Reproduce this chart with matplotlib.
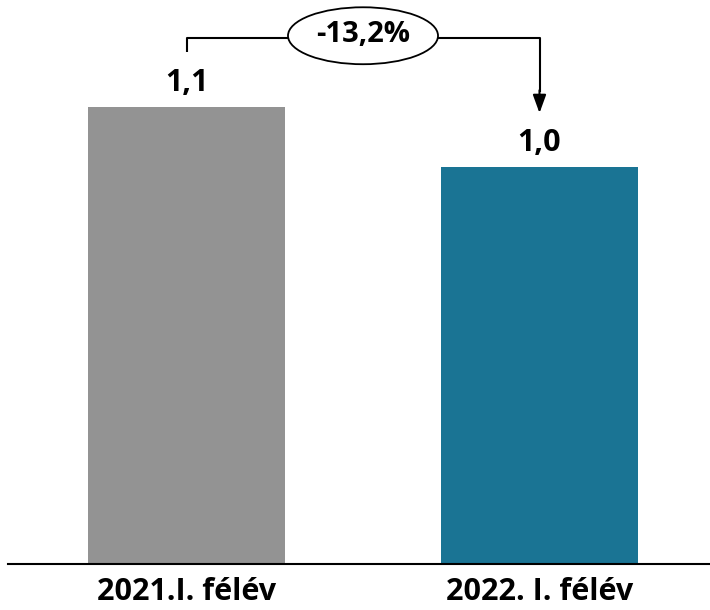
import matplotlib
matplotlib.use("Agg")
import matplotlib.pyplot as plt
from matplotlib.patches import Ellipse

categories = ["2021.I. félév", "2022. I. félév"]
values = [1.1, 0.955]
labels = ["1,1", "1,0"]
change_label = "-13,2%"
colors = ["#939393", "#1a7494"]

plt.rcParams['font.family'] = ['Open Sans', 'DejaVu Sans']

fig = plt.figure(figsize=(7.1, 6.1), dpi=100)
ax = fig.add_axes([8/710, 46/610, 702/710, 564/610])

x = list(range(len(categories)))
ax.bar(x, values, width=0.558, color=colors, zorder=2)
ax.set_xlim(-0.5057, 1.483)
ax.set_ylim(0, 1.357)

for xi, v, lab in zip(x, values, labels):
    ax.text(xi, v + 0.058, lab, ha='center', va='center', fontsize=22, fontweight='bold')

for s in ['top', 'right', 'left']:
    ax.spines[s].set_visible(False)
ax.spines['bottom'].set_linewidth(1.5)
ax.set_yticks([])
ax.set_xticks(x)
ax.set_xticklabels(categories, fontsize=22, fontweight='bold')
ax.tick_params(axis='x', length=0, pad=9)

# bracket annotation
ytop = values[0] + 0.166
ax.plot([x[0], x[0], x[1], x[1]], [values[0] + 0.132, ytop, ytop, values[1] + 0.18],
        color='black', lw=1.5, zorder=3, solid_capstyle='butt')
ax.annotate('', xy=(x[1], values[1] + 0.13), xytext=(x[1], values[1] + 0.185),
            arrowprops=dict(arrowstyle='-|>,head_width=0.4,head_length=1.1', color='black', lw=1.5,
                            shrinkA=0, shrinkB=0))
ell = Ellipse(((x[0] + x[1]) / 2, ytop + 0.005), 0.425, 0.137, facecolor='white',
              edgecolor='black', lw=1.3, zorder=4)
ax.add_patch(ell)
ax.text((x[0] + x[1]) / 2, ytop + 0.007, change_label, ha='center', va='center',
        fontsize=21, fontweight='bold', zorder=5)

fig.savefig("out.png", dpi=100)
